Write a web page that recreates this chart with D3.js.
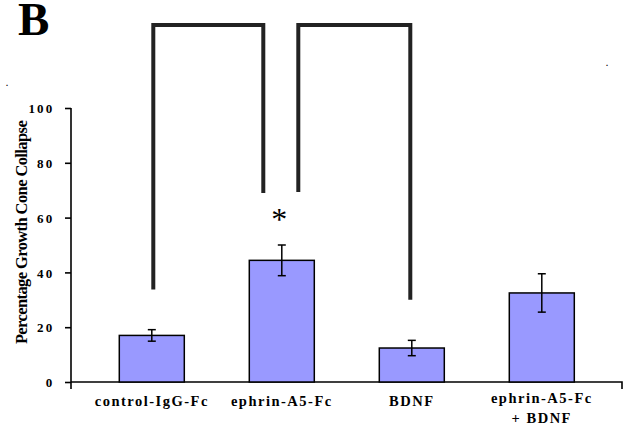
<!DOCTYPE html>
<html>
<head>
<script src="https://d3js.org/d3.v7.min.js"></script>
<style>
  body { margin: 0; background: #fff; }
  svg text { font-family: "Liberation Serif", "Times New Roman", serif; font-weight: bold; }
</style>
</head>
<body>
<div id="chart"></div>
<script>
// data
var groups = ["control-IgG-Fc", "ephrin-A5-Fc", "BDNF", "ephrin-A5-Fc\n+ BDNF"];
var means = [17, 44.4, 12.4, 32.5];
var errors = [2.1, 5.6, 2.8, 7];
var yTicks = [0, 20, 40, 60, 80, 100];
// significance brackets: [from group, to group, top level, left foot, right foot]
var brackets = [[0, 1, 130.3, 33.8, 69], [1, 2, 130.3, 69.3, 30]];

var W = 629, H = 445;
var svg = d3.select("#chart").append("svg").attr("width", W).attr("height", H);

var y = d3.scaleLinear().domain([0, 100]).range([382, 108]);
var x = d3.scaleBand().domain(groups).range([86.8, 606.8]).paddingInner(0.5).paddingOuter(0.25);

// y axis
var yAxis = svg.append("g").attr("transform", "translate(71,0)")
    .call(d3.axisLeft(y).tickValues(yTicks).tickSize(6).tickPadding(10.5));
yAxis.select(".domain").attr("d", "M0," + y(100) + "V" + (y(0) + 7)).attr("stroke-width", 1.6);
yAxis.selectAll(".tick line").attr("stroke-width", 1.6);
yAxis.selectAll("text")
    .attr("dy", "0.36em")
    .style("font-size", "13px").style("letter-spacing", "2.2px")
    .style("font-family", "Liberation Serif").style("font-weight", "bold");

// x baseline
svg.append("path")
    .attr("d", "M71," + y(0) + "H622V" + (y(0) + 7))
    .attr("stroke", "#000").attr("stroke-width", 1.6).attr("fill", "none");

// bars
svg.selectAll(".bar").data(groups).enter().append("rect")
    .attr("x", function(d) { return x(d); })
    .attr("y", function(d, i) { return y(means[i]); })
    .attr("width", x.bandwidth())
    .attr("height", function(d, i) { return y(0) - y(means[i]); })
    .attr("fill", "#9999ff").attr("stroke", "#000").attr("stroke-width", 1.5);

// error bars
var eb = svg.selectAll(".eb").data(groups).enter().append("g");
eb.append("line")
    .attr("x1", function(d) { return x(d) + x.bandwidth() / 2; })
    .attr("x2", function(d) { return x(d) + x.bandwidth() / 2; })
    .attr("y1", function(d, i) { return y(means[i] + errors[i]); })
    .attr("y2", function(d, i) { return y(means[i] - errors[i]); })
    .attr("stroke", "#000").attr("stroke-width", 1.5);
[1, -1].forEach(function(s) {
  eb.append("line")
    .attr("x1", function(d) { return x(d) + x.bandwidth() / 2 - 4; })
    .attr("x2", function(d) { return x(d) + x.bandwidth() / 2 + 4; })
    .attr("y1", function(d, i) { return y(means[i] + s * errors[i]); })
    .attr("y2", function(d, i) { return y(means[i] + s * errors[i]); })
    .attr("stroke", "#000").attr("stroke-width", 1.5);
});

// category labels
svg.selectAll(".lab").data(groups).enter().append("text")
    .attr("x", function(d) { return x(d) + x.bandwidth() / 2; })
    .attr("y", function(d) { return d.indexOf("\n") >= 0 ? 403 : 406; })
    .attr("text-anchor", "middle")
    .style("font-size", "14.5px").style("letter-spacing", "1.5px")
    .each(function(d) {
      var t = d3.select(this);
      d.split("\n").forEach(function(s, k) {
        t.append("tspan").attr("x", t.attr("x")).attr("dy", k ? 19.5 : 0).text(s);
      });
    });

// y title
svg.append("text")
    .attr("transform", "translate(27,232.5) rotate(-90)")
    .attr("text-anchor", "middle")
    .style("font-size", "16.5px").style("letter-spacing", "-0.6px")
    .text("Percentage Growth Cone Collapse");

// brackets
var cx = function(i) { return x(groups[i]) + x.bandwidth() / 2; };
brackets.forEach(function(b, k) {
  var x0 = k === 0 ? cx(b[0]) + 1.5 : cx(b[0]) + 16.5;
  var x1 = k === 0 ? cx(b[1]) - 18.5 : cx(b[1]) - 1.5;
  svg.append("path")
    .attr("d", "M" + x0 + "," + y(b[3]) + "V" + y(b[2]) + "H" + x1 + "V" + y(b[4]))
    .attr("stroke", "#222").attr("stroke-width", 4).attr("fill", "none");
});

// asterisk
svg.append("text").attr("x", cx(1) - 2.5).attr("y", 230).attr("text-anchor", "middle")
    .style("font-size", "32px").style("font-weight", "normal").text("*");

// panel letter
svg.append("text").attr("x", 18).attr("y", 35).style("font-size", "47px").text("B");

// stray dots in the scan
svg.append("text").attr("x", 6).attr("y", 86).style("font-size", "8px").text(".");
svg.append("text").attr("x", 606).attr("y", 66).style("font-size", "8px").text(".");
</script>
</body>
</html>
